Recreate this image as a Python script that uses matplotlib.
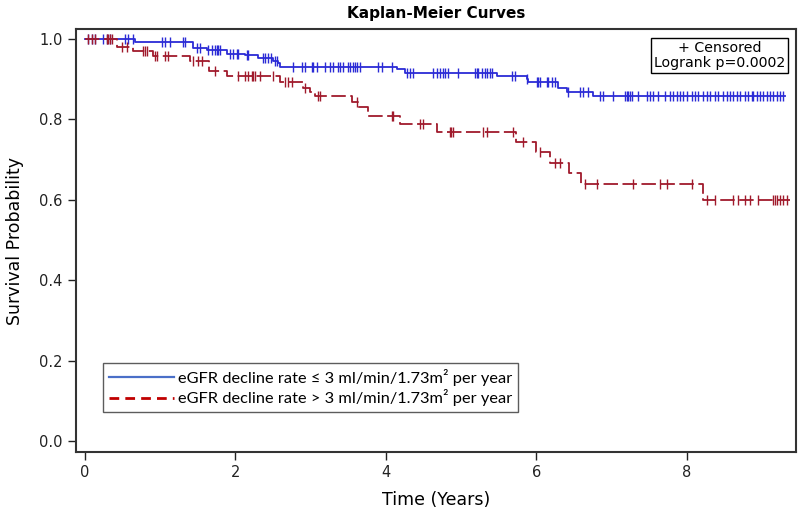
import numpy as np
import matplotlib.pyplot as plt
from matplotlib.lines import Line2D

# --- data ---
# eGFR decline <= 3: event times (years) and survival after each step
low_t = [0.66, 1.44, 1.62, 1.89, 2.13, 2.30, 2.50, 2.56, 2.59, 4.15, 4.25,
         5.47, 5.87, 5.89, 6.29, 6.40, 6.75]
low_s = [0.992, 0.977, 0.973, 0.964, 0.960, 0.952, 0.945, 0.940, 0.931, 0.925, 0.916,
         0.908, 0.900, 0.894, 0.879, 0.869, 0.858]
low_end = 9.30
low_cens = [0.04, 0.09, 0.13, 0.24, 0.29, 0.33, 0.53, 0.57, 0.64, 1.02, 1.06, 1.13,
            1.30, 1.33, 1.49, 1.53, 1.63, 1.69, 1.73, 1.75, 1.77, 1.79, 1.93, 1.97,
            2.02, 2.03, 2.15, 2.17, 2.37, 2.39, 2.43, 2.47, 2.52, 2.55,
            2.76, 2.88, 2.92, 3.02, 3.03, 3.08, 3.19, 3.26, 3.30, 3.36, 3.39, 3.43,
            3.50, 3.52, 3.56, 3.59, 3.61, 3.65, 3.89, 3.95, 4.08, 4.28, 4.32, 4.36,
            4.62, 4.68, 4.72, 4.76, 4.78, 4.82, 4.96, 5.18, 5.21, 5.22, 5.28, 5.32,
            5.34, 5.38, 5.41, 5.67, 5.71, 5.88, 6.01, 6.02, 6.05, 6.14, 6.15, 6.21,
            6.25, 6.42, 6.58, 6.62, 6.68, 6.84, 6.88, 7.02, 7.18, 7.20, 7.22, 7.24,
            7.27, 7.35, 7.47, 7.51, 7.55, 7.61, 7.71, 7.77, 7.81, 7.87, 7.91, 7.95,
            8.00, 8.07, 8.11, 8.15, 8.21, 8.27, 8.31, 8.37, 8.41, 8.48, 8.53, 8.57,
            8.61, 8.66, 8.70, 8.77, 8.81, 8.86, 8.88, 8.93, 8.97, 9.01, 9.06, 9.10,
            9.14, 9.20, 9.24, 9.28]

# eGFR decline > 3
high_t = [0.43, 0.64, 0.90, 1.40, 1.65, 1.89, 2.59, 2.90, 2.99, 3.06, 3.55, 3.63,
          3.76, 4.19, 4.68, 5.73, 6.00, 6.18, 6.43, 6.59, 8.22]
high_s = [0.981, 0.970, 0.958, 0.945, 0.920, 0.909, 0.892, 0.879, 0.869, 0.859, 0.844,
          0.832, 0.809, 0.789, 0.768, 0.743, 0.718, 0.692, 0.666, 0.639, 0.600]
high_end = 9.37
high_cens = [0.04, 0.09, 0.13, 0.29, 0.31, 0.33, 0.36, 0.49, 0.56, 0.77, 0.80, 0.82,
             0.93, 0.96, 1.06, 1.10, 1.44, 1.50, 1.55, 1.73, 2.03, 2.13, 2.17,
             2.22, 2.23, 2.26, 2.33, 2.50, 2.66, 2.70, 2.75, 2.92, 3.10, 3.12, 3.61,
             4.08, 4.09, 4.45, 4.49, 4.85, 4.87, 4.89, 5.29, 5.34, 5.69, 5.82, 6.05,
             6.25, 6.31, 6.64, 6.80, 7.28, 7.64, 7.73, 8.07, 8.27, 8.37, 8.61, 8.68,
             8.77, 8.84, 8.94, 9.14, 9.17, 9.20, 9.24, 9.28, 9.33]

legend_labels = ['eGFR decline rate \u2264 3 ml/min/1.73m\u00b2 per year',
                 'eGFR decline rate > 3 ml/min/1.73m\u00b2 per year']
x_ticks = [0, 2, 4, 6, 8]
y_ticks = [0.0, 0.2, 0.4, 0.6, 0.8, 1.0]

blue = '#2B2BD6'
red = '#A01A2C'


def km_curve(t, s, end):
    xs = np.concatenate([[0.0], t, [end]])
    ys = np.concatenate([[1.0], s, [s[-1]]])
    return xs, ys


def surv_at(t, s, x):
    idx = np.searchsorted(np.array(t), np.array(x), side='right')
    vals = np.concatenate([[1.0], s])
    return vals[idx]


fig = plt.figure(figsize=(8, 5.15), dpi=100)
ax = fig.add_axes([0.095, 0.1223, 0.90, 0.8214])

xs, ys = km_curve(low_t, low_s, low_end)
ax.plot(xs, ys, drawstyle='steps-post', color=blue, lw=1.3)
ax.plot(low_cens, surv_at(low_t, low_s, low_cens), ls='none', marker='|',
        ms=7.5, mew=1.0, color=blue)

xs, ys = km_curve(high_t, high_s, high_end)
ax.plot(xs, ys, drawstyle='steps-post', color=red, lw=1.3, dashes=(8, 2.5))
ax.plot(high_cens, surv_at(high_t, high_s, high_cens), ls='none', marker='|',
        ms=7.5, mew=1.0, color=red)

ax.set_xlim(-0.12, 9.45)
ax.set_ylim(-0.027, 1.025)
ax.set_xticks(x_ticks)
ax.set_xticklabels([str(v) for v in x_ticks])
ax.set_yticks(y_ticks)
ax.set_yticklabels(['%.1f' % v for v in y_ticks])
ax.tick_params(direction='out', length=6, width=1, labelsize=10.5, colors='#222222')
for sp in ax.spines.values():
    sp.set_linewidth(1.5)
    sp.set_color('#333333')

ax.set_xlabel('Time (Years)', fontsize=12.5, labelpad=8)
ax.set_ylabel('Survival Probability', fontsize=12.5, labelpad=11)
ax.set_title('Kaplan-Meier Curves', fontsize=11, fontweight='bold', pad=8)

ax.text(0.894, 0.972, '+ Censored\nLogrank p=0.0002', transform=ax.transAxes,
        ha='center', va='top', fontsize=10.2, linespacing=1.1,
        bbox=dict(boxstyle='square,pad=0.2', fc='white', ec='black', lw=1))

handles = [Line2D([], [], color='#4A6FC8', lw=1.6),
           Line2D([], [], color='#C00000', lw=2, dashes=(3.5, 2.2))]
leg = ax.legend(handles, legend_labels, loc='lower left', bbox_to_anchor=(0.026, 0.075),
                frameon=True, fancybox=False, edgecolor='#333333',
                handlelength=4.0, handletextpad=0.25, borderpad=0.35, labelspacing=0.2,
                prop={'family': 'Lato', 'size': 11.8})
leg.get_frame().set_linewidth(1)

fig.savefig('out.png', dpi=100)
